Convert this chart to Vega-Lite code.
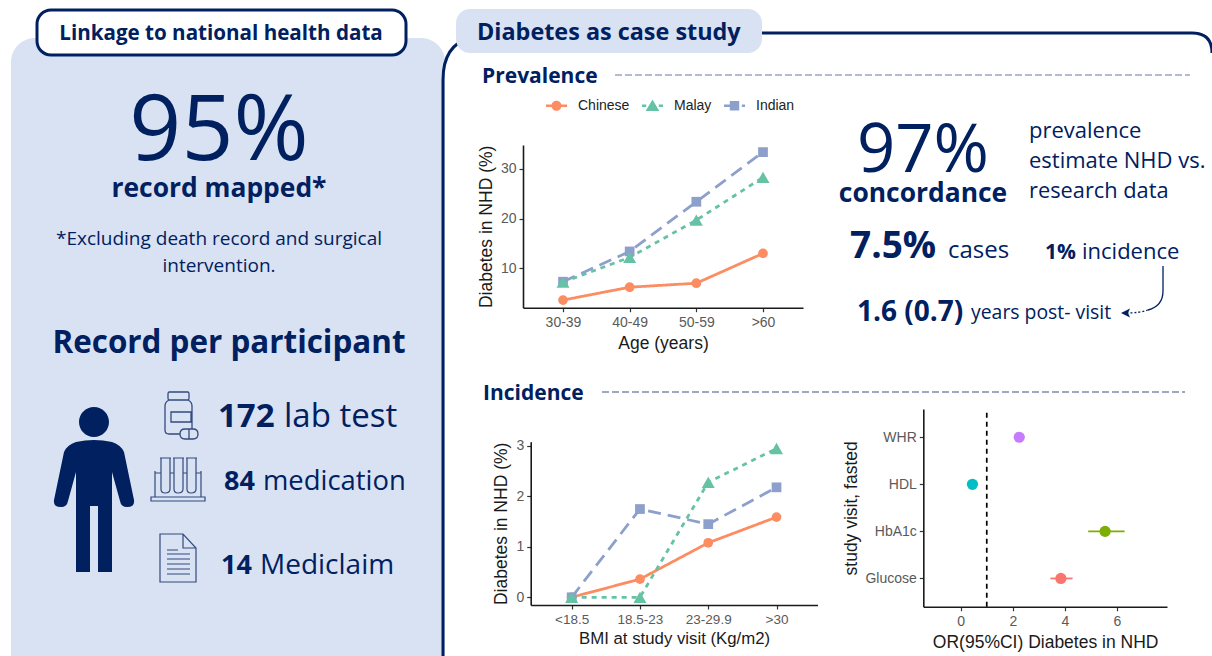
{"$schema":"https://vega.github.io/schema/vega-lite/v6.json","width":1212,"height":656,"autosize":{"type":"none"},"padding":0,"background":"white","config":{"view":{"stroke":null},"axis":{"grid":false,"domainColor":"#1a1a1a","domainWidth":1.6,"tickColor":"#333333","tickSize":4,"tickWidth":1.2,"labelColor":"#5a5a5a","labelFont":"Liberation Sans","labelFontSize":14,"labelPadding":3,"titleFont":"Liberation Sans","titleFontSize":17.5,"titleFontWeight":"normal","titleColor":"#1a1a1a"}},
"datasets":{"prev":[{"age":"30-39","group":"Chinese","pct":3.6},{"age":"40-49","group":"Chinese","pct":6.2},{"age":"50-59","group":"Chinese","pct":7.0},{"age":">60","group":"Chinese","pct":13.0},{"age":"30-39","group":"Indian","pct":7.3},{"age":"40-49","group":"Indian","pct":13.4},{"age":"50-59","group":"Indian","pct":23.4},{"age":">60","group":"Indian","pct":33.4},{"age":"30-39","group":"Malay","pct":7.2},{"age":"40-49","group":"Malay","pct":12.2},{"age":"50-59","group":"Malay","pct":19.7},{"age":">60","group":"Malay","pct":28.3}],
"inc":[{"bmi":"<18.5","group":"Chinese","pct":0},{"bmi":"18.5-23","group":"Chinese","pct":0.36},{"bmi":"23-29.9","group":"Chinese","pct":1.08},{"bmi":">30","group":"Chinese","pct":1.59},{"bmi":"<18.5","group":"Indian","pct":0},{"bmi":"18.5-23","group":"Indian","pct":1.75},{"bmi":"23-29.9","group":"Indian","pct":1.45},{"bmi":">30","group":"Indian","pct":2.18},{"bmi":"<18.5","group":"Malay","pct":0},{"bmi":"18.5-23","group":"Malay","pct":0},{"bmi":"23-29.9","group":"Malay","pct":2.28},{"bmi":">30","group":"Malay","pct":2.95}],
"or":[{"var":"WHR","or":2.25,"lo":2.1,"hi":2.4},{"var":"HDL","or":0.45,"lo":0.35,"hi":0.55},{"var":"HbA1c","or":5.55,"lo":4.9,"hi":6.3},{"var":"Glucose","or":3.85,"lo":3.45,"hi":4.3}]},
"resolve":{"scale":{"x":"independent","y":"independent","color":"independent","shape":"independent","strokeDash":"independent","size":"independent"},"axis":{"x":"independent","y":"independent"},"legend":{"color":"independent","shape":"independent","strokeDash":"independent","size":"independent"}},
"layer":[
{"data":{"values":[{"t":""}]},"layer":[
{"mark":{"type":"rect","fill":"#D9E2F3","cornerRadius":24},"encoding":{"x":{"datum":11,"scale":{"domain":[0,1212],"range":[0,1212]},"axis":null},"x2":{"datum":445},"y":{"datum":38,"scale":{"domain":[0,656],"range":[0,656]},"axis":null},"y2":{"datum":690}}},
{"mark":{"type":"point","shape":"M-357,320V-270Q-357,-305,-330,-312M-50,-317H392Q412,-317,412,-297","size":4,"filled":false,"stroke":"#002060","strokeWidth":3,"opacity":1},"encoding":{"x":{"datum":800,"scale":{"domain":[0,1212],"range":[0,1212]},"axis":null},"y":{"datum":350,"scale":{"domain":[0,656],"range":[0,656]},"axis":null}}},
{"mark":{"type":"rect","fill":"white","stroke":"#002060","strokeWidth":3,"cornerRadius":14},"encoding":{"x":{"datum":37,"scale":{"domain":[0,1212],"range":[0,1212]},"axis":null},"x2":{"datum":406},"y":{"datum":10,"scale":{"domain":[0,656],"range":[0,656]},"axis":null},"y2":{"datum":55}}},
{"mark":{"type":"rect","fill":"#D9E2F3","cornerRadius":14},"encoding":{"x":{"datum":456,"scale":{"domain":[0,1212],"range":[0,1212]},"axis":null},"x2":{"datum":762},"y":{"datum":9,"scale":{"domain":[0,656],"range":[0,656]},"axis":null},"y2":{"datum":53}}},
{"mark":{"type":"rule","stroke":"#9aa5c4","strokeWidth":1.5,"strokeDash":[7,3]},"encoding":{"x":{"datum":615,"scale":{"domain":[0,1212],"range":[0,1212]},"axis":null},"x2":{"datum":1190},"y":{"datum":75,"scale":{"domain":[0,656],"range":[0,656]},"axis":null}}},
{"mark":{"type":"rule","stroke":"#7f8cb0","strokeWidth":1.5,"strokeDash":[7,3]},"encoding":{"x":{"datum":602,"scale":{"domain":[0,1212],"range":[0,1212]},"axis":null},"x2":{"datum":1185},"y":{"datum":392,"scale":{"domain":[0,656],"range":[0,656]},"axis":null}}},
{"mark":{"type":"point","shape":"M-15,-78a15,15 0 1,1 30,0a15,15 0 1,1 -30,0ZM-18,-58Q-27,-55,-30,-48L-40,0Q-41,7,-33,7Q-27,7,-26,1L-18,-28V72H-4V6H4V72H18V-28L26,1Q27,7,33,7Q41,7,40,0L30,-48Q27,-55,18,-58Q0,-62,-18,-58Z","size":4,"filled":true,"fill":"#002060","opacity":1},"encoding":{"x":{"datum":94,"scale":{"domain":[0,1212],"range":[0,1212]},"axis":null},"y":{"datum":500,"scale":{"domain":[0,656],"range":[0,656]},"axis":null}}},
{"mark":{"type":"point","shape":"M-11,-23H8Q9,-23,9,-21V-17Q9,-15,8,-15H-11Q-12,-15,-12,-17V-21Q-12,-23,-11,-23ZM-11,-15Q-15,-13,-15,-9V15Q-15,19,-11,19H0M8,-15Q12,-13,12,-9V14M-9,-3H11V7H-9ZM5,14H13Q18,14,18,19Q18,24,13,24H5Q0,24,0,19Q0,14,5,14ZM9,14V24","size":4,"filled":false,"stroke":"#33497f","strokeWidth":1.3,"opacity":1},"encoding":{"x":{"datum":180,"scale":{"domain":[0,1212],"range":[0,1212]},"axis":null},"y":{"datum":415,"scale":{"domain":[0,656],"range":[0,656]},"axis":null}}},
{"mark":{"type":"point","shape":"M-27,17H27V21H-27ZM-23,-9V17M23,-9V17M-23,-7H-17M-8,-7H-4M5,-7H9M18,-7H23M-17,-22V9Q-17,13,-13,13Q-8,13,-8,9V-22M-4,-22V9Q-4,13,0,13Q5,13,5,9V-22M9,-22V9Q9,13,13,13Q18,13,18,9V-22M-18,-22H-7M-5,-22H6M8,-22H19","size":4,"filled":false,"stroke":"#33497f","strokeWidth":1.2,"opacity":1},"encoding":{"x":{"datum":178,"scale":{"domain":[0,1212],"range":[0,1212]},"axis":null},"y":{"datum":480,"scale":{"domain":[0,656],"range":[0,656]},"axis":null}}},
{"mark":{"type":"point","shape":"M-18,-24H5L18,-10V24H-18ZM5,-24V-10H18M-11,-8H0M-11,-4H12M-11,1H12M-11,6H12M-11,11H12M-11,16H12","size":4,"filled":false,"stroke":"#33497f","strokeWidth":1.2,"opacity":1},"encoding":{"x":{"datum":178,"scale":{"domain":[0,1212],"range":[0,1212]},"axis":null},"y":{"datum":558,"scale":{"domain":[0,656],"range":[0,656]},"axis":null}}},
{"mark":{"type":"point","shape":"M0,-47V-22Q0,-7,-15,-3","size":4,"filled":false,"stroke":"#002060","strokeWidth":1.3,"opacity":1},"encoding":{"x":{"datum":1163,"scale":{"domain":[0,1212],"range":[0,1212]},"axis":null},"y":{"datum":313,"scale":{"domain":[0,656],"range":[0,656]},"axis":null}}},
{"mark":{"type":"point","shape":"M-15,-3Q-24,0,-36,0","size":4,"filled":false,"stroke":"#002060","strokeWidth":1.3,"strokeDash":[2,2],"opacity":1},"encoding":{"x":{"datum":1163,"scale":{"domain":[0,1212],"range":[0,1212]},"axis":null},"y":{"datum":313,"scale":{"domain":[0,656],"range":[0,656]},"axis":null}}},
{"mark":{"type":"point","shape":"M-5,0L4,-4.5L2,0L4,4.5Z","size":4,"filled":true,"fill":"#002060","opacity":1},"encoding":{"x":{"datum":1126,"scale":{"domain":[0,1212],"range":[0,1212]},"axis":null},"y":{"datum":313,"scale":{"domain":[0,656],"range":[0,656]},"axis":null}}}
]},
{"layer":[
{"data":{"values":[{"t":"Linkage to national health data"}]},"mark":{"type":"text","align":"center","baseline":"alphabetic","font":"Open Sans","fontWeight":"bold","fontSize":20.6,"color":"#002060"},"encoding":{"x":{"datum":221,"scale":{"domain":[0,1212],"range":[0,1212]},"axis":null},"y":{"datum":40,"scale":{"domain":[0,656],"range":[0,656]},"axis":null},"text":{"field":"t"}}},
{"data":{"values":[{"t":"Diabetes as case study"}]},"mark":{"type":"text","align":"left","baseline":"alphabetic","font":"Open Sans","fontWeight":"bold","fontSize":23.4,"color":"#002060"},"encoding":{"x":{"datum":477,"scale":{"domain":[0,1212],"range":[0,1212]},"axis":null},"y":{"datum":40,"scale":{"domain":[0,656],"range":[0,656]},"axis":null},"text":{"field":"t"}}},
{"data":{"values":[{"t":"Prevalence"}]},"mark":{"type":"text","align":"left","baseline":"alphabetic","font":"Open Sans","fontWeight":"bold","fontSize":21,"color":"#002060"},"encoding":{"x":{"datum":482,"scale":{"domain":[0,1212],"range":[0,1212]},"axis":null},"y":{"datum":83,"scale":{"domain":[0,656],"range":[0,656]},"axis":null},"text":{"field":"t"}}},
{"data":{"values":[{"t":"Incidence"}]},"mark":{"type":"text","align":"left","baseline":"alphabetic","font":"Open Sans","fontWeight":"bold","fontSize":21,"color":"#002060"},"encoding":{"x":{"datum":483,"scale":{"domain":[0,1212],"range":[0,1212]},"axis":null},"y":{"datum":400,"scale":{"domain":[0,656],"range":[0,656]},"axis":null},"text":{"field":"t"}}},
{"data":{"values":[{"t":"95%"}]},"mark":{"type":"text","align":"center","baseline":"alphabetic","font":"Open Sans","fontSize":91,"color":"#002060"},"encoding":{"x":{"datum":219,"scale":{"domain":[0,1212],"range":[0,1212]},"axis":null},"y":{"datum":160,"scale":{"domain":[0,656],"range":[0,656]},"axis":null},"text":{"field":"t"}}},
{"data":{"values":[{"t":"record mapped*"}]},"mark":{"type":"text","align":"center","baseline":"alphabetic","font":"Open Sans","fontWeight":"bold","fontSize":26.4,"color":"#002060"},"encoding":{"x":{"datum":219,"scale":{"domain":[0,1212],"range":[0,1212]},"axis":null},"y":{"datum":197,"scale":{"domain":[0,656],"range":[0,656]},"axis":null},"text":{"field":"t"}}},
{"data":{"values":[{"t":"*Excluding death record and surgical"}]},"mark":{"type":"text","align":"center","baseline":"alphabetic","font":"Open Sans","fontSize":19,"color":"#002060"},"encoding":{"x":{"datum":219,"scale":{"domain":[0,1212],"range":[0,1212]},"axis":null},"y":{"datum":245,"scale":{"domain":[0,656],"range":[0,656]},"axis":null},"text":{"field":"t"}}},
{"data":{"values":[{"t":"intervention."}]},"mark":{"type":"text","align":"center","baseline":"alphabetic","font":"Open Sans","fontSize":19,"color":"#002060"},"encoding":{"x":{"datum":219,"scale":{"domain":[0,1212],"range":[0,1212]},"axis":null},"y":{"datum":272,"scale":{"domain":[0,656],"range":[0,656]},"axis":null},"text":{"field":"t"}}},
{"data":{"values":[{"t":"Record per participant"}]},"mark":{"type":"text","align":"center","baseline":"alphabetic","font":"Open Sans","fontWeight":"bold","fontSize":31.4,"color":"#002060"},"encoding":{"x":{"datum":229,"scale":{"domain":[0,1212],"range":[0,1212]},"axis":null},"y":{"datum":353,"scale":{"domain":[0,656],"range":[0,656]},"axis":null},"text":{"field":"t"}}},
{"data":{"values":[{"t":"172"}]},"mark":{"type":"text","align":"left","baseline":"alphabetic","font":"Open Sans","fontWeight":"bold","fontSize":33,"color":"#002060"},"encoding":{"x":{"datum":218,"scale":{"domain":[0,1212],"range":[0,1212]},"axis":null},"y":{"datum":427,"scale":{"domain":[0,656],"range":[0,656]},"axis":null},"text":{"field":"t"}}},
{"data":{"values":[{"t":"lab test"}]},"mark":{"type":"text","align":"left","baseline":"alphabetic","font":"Open Sans","fontSize":33,"color":"#002060"},"encoding":{"x":{"datum":284,"scale":{"domain":[0,1212],"range":[0,1212]},"axis":null},"y":{"datum":427,"scale":{"domain":[0,656],"range":[0,656]},"axis":null},"text":{"field":"t"}}},
{"data":{"values":[{"t":"84"}]},"mark":{"type":"text","align":"left","baseline":"alphabetic","font":"Open Sans","fontWeight":"bold","fontSize":27,"color":"#002060"},"encoding":{"x":{"datum":224,"scale":{"domain":[0,1212],"range":[0,1212]},"axis":null},"y":{"datum":490,"scale":{"domain":[0,656],"range":[0,656]},"axis":null},"text":{"field":"t"}}},
{"data":{"values":[{"t":"medication"}]},"mark":{"type":"text","align":"left","baseline":"alphabetic","font":"Open Sans","fontSize":27.4,"color":"#002060"},"encoding":{"x":{"datum":263,"scale":{"domain":[0,1212],"range":[0,1212]},"axis":null},"y":{"datum":490,"scale":{"domain":[0,656],"range":[0,656]},"axis":null},"text":{"field":"t"}}},
{"data":{"values":[{"t":"14"}]},"mark":{"type":"text","align":"left","baseline":"alphabetic","font":"Open Sans","fontWeight":"bold","fontSize":27,"color":"#002060"},"encoding":{"x":{"datum":221,"scale":{"domain":[0,1212],"range":[0,1212]},"axis":null},"y":{"datum":574,"scale":{"domain":[0,656],"range":[0,656]},"axis":null},"text":{"field":"t"}}},
{"data":{"values":[{"t":"Mediclaim"}]},"mark":{"type":"text","align":"left","baseline":"alphabetic","font":"Open Sans","fontSize":28,"color":"#002060"},"encoding":{"x":{"datum":260,"scale":{"domain":[0,1212],"range":[0,1212]},"axis":null},"y":{"datum":574,"scale":{"domain":[0,656],"range":[0,656]},"axis":null},"text":{"field":"t"}}},
{"data":{"values":[{"t":"97%"}]},"mark":{"type":"text","align":"center","baseline":"alphabetic","font":"Open Sans","fontSize":67,"color":"#002060"},"encoding":{"x":{"datum":923,"scale":{"domain":[0,1212],"range":[0,1212]},"axis":null},"y":{"datum":172,"scale":{"domain":[0,656],"range":[0,656]},"axis":null},"text":{"field":"t"}}},
{"data":{"values":[{"t":"concordance"}]},"mark":{"type":"text","align":"center","baseline":"alphabetic","font":"Open Sans","fontWeight":"bold","fontSize":26.4,"color":"#002060"},"encoding":{"x":{"datum":923,"scale":{"domain":[0,1212],"range":[0,1212]},"axis":null},"y":{"datum":202,"scale":{"domain":[0,656],"range":[0,656]},"axis":null},"text":{"field":"t"}}},
{"data":{"values":[{"t":"prevalence"}]},"mark":{"type":"text","align":"left","baseline":"alphabetic","font":"Open Sans","fontSize":22,"color":"#002060"},"encoding":{"x":{"datum":1029,"scale":{"domain":[0,1212],"range":[0,1212]},"axis":null},"y":{"datum":138,"scale":{"domain":[0,656],"range":[0,656]},"axis":null},"text":{"field":"t"}}},
{"data":{"values":[{"t":"estimate NHD vs."}]},"mark":{"type":"text","align":"left","baseline":"alphabetic","font":"Open Sans","fontSize":22,"color":"#002060"},"encoding":{"x":{"datum":1029,"scale":{"domain":[0,1212],"range":[0,1212]},"axis":null},"y":{"datum":168,"scale":{"domain":[0,656],"range":[0,656]},"axis":null},"text":{"field":"t"}}},
{"data":{"values":[{"t":"research data"}]},"mark":{"type":"text","align":"left","baseline":"alphabetic","font":"Open Sans","fontSize":21.8,"color":"#002060"},"encoding":{"x":{"datum":1029,"scale":{"domain":[0,1212],"range":[0,1212]},"axis":null},"y":{"datum":198,"scale":{"domain":[0,656],"range":[0,656]},"axis":null},"text":{"field":"t"}}},
{"data":{"values":[{"t":"7.5%"}]},"mark":{"type":"text","align":"left","baseline":"alphabetic","font":"Open Sans","fontWeight":"bold","fontSize":37,"color":"#002060"},"encoding":{"x":{"datum":850,"scale":{"domain":[0,1212],"range":[0,1212]},"axis":null},"y":{"datum":258,"scale":{"domain":[0,656],"range":[0,656]},"axis":null},"text":{"field":"t"}}},
{"data":{"values":[{"t":"cases"}]},"mark":{"type":"text","align":"left","baseline":"alphabetic","font":"Open Sans","fontSize":24,"color":"#002060"},"encoding":{"x":{"datum":948,"scale":{"domain":[0,1212],"range":[0,1212]},"axis":null},"y":{"datum":258,"scale":{"domain":[0,656],"range":[0,656]},"axis":null},"text":{"field":"t"}}},
{"data":{"values":[{"t":"1%"}]},"mark":{"type":"text","align":"left","baseline":"alphabetic","font":"Open Sans","fontWeight":"bold","fontSize":21,"color":"#002060"},"encoding":{"x":{"datum":1045,"scale":{"domain":[0,1212],"range":[0,1212]},"axis":null},"y":{"datum":259,"scale":{"domain":[0,656],"range":[0,656]},"axis":null},"text":{"field":"t"}}},
{"data":{"values":[{"t":"incidence"}]},"mark":{"type":"text","align":"left","baseline":"alphabetic","font":"Open Sans","fontSize":22,"color":"#002060"},"encoding":{"x":{"datum":1082,"scale":{"domain":[0,1212],"range":[0,1212]},"axis":null},"y":{"datum":259,"scale":{"domain":[0,656],"range":[0,656]},"axis":null},"text":{"field":"t"}}},
{"data":{"values":[{"t":"1.6 (0.7)"}]},"mark":{"type":"text","align":"left","baseline":"alphabetic","font":"Open Sans","fontWeight":"bold","fontSize":28,"color":"#002060"},"encoding":{"x":{"datum":857,"scale":{"domain":[0,1212],"range":[0,1212]},"axis":null},"y":{"datum":321,"scale":{"domain":[0,656],"range":[0,656]},"axis":null},"text":{"field":"t"}}},
{"data":{"values":[{"t":"years post- visit"}]},"mark":{"type":"text","align":"left","baseline":"alphabetic","font":"Open Sans","fontSize":19.4,"color":"#002060"},"encoding":{"x":{"datum":971,"scale":{"domain":[0,1212],"range":[0,1212]},"axis":null},"y":{"datum":319,"scale":{"domain":[0,656],"range":[0,656]},"axis":null},"text":{"field":"t"}}}
]},
{"data":{"name":"prev"},"encoding":{"x":{"field":"age","type":"ordinal","scale":{"type":"point","domain":["30-39","40-49","50-59",">60"],"range":[523,803],"padding":0.6},"axis":{"orient":"bottom","offset":-348.3,"title":"Age (years)","labelAngle":0,"titlePadding":5,"labelPadding":4}},"y":{"field":"pct","type":"quantitative","scale":{"domain":[2.07,34.83],"range":[307.7,145],"nice":false,"zero":false},"axis":{"orient":"left","offset":-523,"values":[10,20,30],"title":"Diabetes in NHD (%)","titlePadding":5}},"color":{"field":"group","type":"nominal","scale":{"domain":["Chinese","Malay","Indian"],"range":["#FC8D62","#66C2A5","#8DA0CB"]},"legend":null}},
"layer":[{"mark":{"type":"line","strokeWidth":2.8},"encoding":{"strokeDash":{"field":"group","type":"nominal","scale":{"domain":["Chinese","Malay","Indian"],"range":[[1,0],[5,5],[13,7]]},"legend":null}}},{"mark":{"type":"point","filled":true,"opacity":1},"encoding":{"shape":{"field":"group","type":"nominal","scale":{"domain":["Chinese","Malay","Indian"],"range":["circle","triangle-up","square"]},"legend":null},"size":{"field":"group","type":"nominal","scale":{"type":"ordinal","domain":["Chinese","Malay","Indian"],"range":[95,170,95]},"legend":null}}}]},
{"data":{"name":"inc"},"encoding":{"x":{"field":"bmi","type":"ordinal","scale":{"type":"point","domain":["<18.5","18.5-23","23-29.9",">30"],"range":[530.7,817.5],"padding":0.6},"axis":{"orient":"bottom","offset":-51,"title":"BMI at study visit (Kg/m2)","labelAngle":0,"titlePadding":5,"titleFontSize":16.8,"labelFontSize":13.5}},"y":{"field":"pct","type":"quantitative","scale":{"domain":[-0.153,3.085],"range":[605,441.7],"nice":false,"zero":false},"axis":{"orient":"left","offset":-530.7,"values":[0,1,2,3],"title":"Diabetes in NHD (%)","titlePadding":5}},"color":{"field":"group","type":"nominal","scale":{"domain":["Chinese","Malay","Indian"],"range":["#FC8D62","#66C2A5","#8DA0CB"]},"legend":null}},
"layer":[{"mark":{"type":"line","strokeWidth":2.8},"encoding":{"strokeDash":{"field":"group","type":"nominal","scale":{"domain":["Chinese","Malay","Indian"],"range":[[1,0],[5,5],[13,7]]},"legend":null}}},{"mark":{"type":"point","filled":true,"opacity":1},"encoding":{"shape":{"field":"group","type":"nominal","scale":{"domain":["Chinese","Malay","Indian"],"range":["circle","triangle-up","square"]},"legend":null},"size":{"field":"group","type":"nominal","scale":{"type":"ordinal","domain":["Chinese","Malay","Indian"],"range":[95,170,95]},"legend":null}}}]},
{"resolve":{"scale":{"y":"independent"},"axis":{"y":"independent"}},"layer":[
{"data":{"name":"or"},"encoding":{"y":{"field":"var","type":"nominal","scale":{"type":"point","domain":["Glucose","HbA1c","HDL","WHR"],"range":[606.7,409],"padding":0.6},"axis":{"orient":"left","offset":-923.3,"title":"study visit, fasted","titlePadding":4,"labelFontSize":14}},"color":{"field":"var","type":"nominal","scale":{"domain":["Glucose","HbA1c","HDL","WHR"],"range":["#F8766D","#7CAE00","#00BFC4","#C77CFF"]},"legend":null}},
"layer":[{"mark":{"type":"rule","strokeWidth":1.8},"encoding":{"x":{"field":"lo","type":"quantitative","scale":{"domain":[-1.44,7.93],"range":[923.3,1167],"nice":false,"zero":false},"axis":{"orient":"bottom","offset":-49.3,"values":[0,2,4,6],"format":"d","title":"OR(95%CI) Diabetes in NHD","titlePadding":5,"labelPadding":4}},"x2":{"field":"hi"}}},{"mark":{"type":"point","filled":true,"opacity":1,"size":125,"shape":"circle"},"encoding":{"x":{"field":"or","type":"quantitative"}}}]},
{"data":{"values":[{"ref":1}]},"mark":{"type":"rule","stroke":"#000000","strokeWidth":1.7,"strokeDash":[5,4]},"encoding":{"x":{"field":"ref","type":"quantitative"},"y":{"datum":0,"scale":{"domain":[0,1],"range":[606.7,409]},"axis":null},"y2":{"datum":1}}}
]},
{"data":{"name":"prev"},"mark":{"type":"point","filled":true,"size":0,"opacity":1},"encoding":{"color":{"field":"group","type":"nominal","scale":{"domain":["Chinese","Malay","Indian"],"range":["#FC8D62","#66C2A5","#8DA0CB"]},"legend":{"orient":"none","legendX":546,"legendY":95,"direction":"horizontal","columns":3,"title":null,"symbolSize":441,"symbolStrokeWidth":0,"labelFont":"Liberation Sans","labelFontSize":14,"labelColor":"#222222","labelOffset":11,"columnPadding":12,"symbolOpacity":1}},"shape":{"field":"group","type":"nominal","scale":{"domain":["Chinese","Malay","Indian"],"range":["M-1,-0.12H1V0.12H-1ZM-0.48,0a0.48,0.48 0 1,1 0.96,0a0.48,0.48 0 1,1 -0.96,0Z","M-1,-0.12H-0.6V0.12H-1ZM-0.2,-0.12H0.2V0.12H-0.2ZM0.6,-0.12H1V0.12H0.6ZM0,-0.6L0.65,0.5H-0.65Z","M-1,-0.12H0V0.12H-1ZM0.7,-0.12H1V0.12H0.7ZM-0.45,-0.45H0.45V0.45H-0.45Z"]},"legend":{"orient":"none","legendX":546,"legendY":95,"direction":"horizontal","columns":3,"title":null,"symbolSize":441,"symbolStrokeWidth":0,"labelFont":"Liberation Sans","labelFontSize":14,"labelColor":"#222222","labelOffset":11,"columnPadding":12,"symbolOpacity":1}}}}
]}
